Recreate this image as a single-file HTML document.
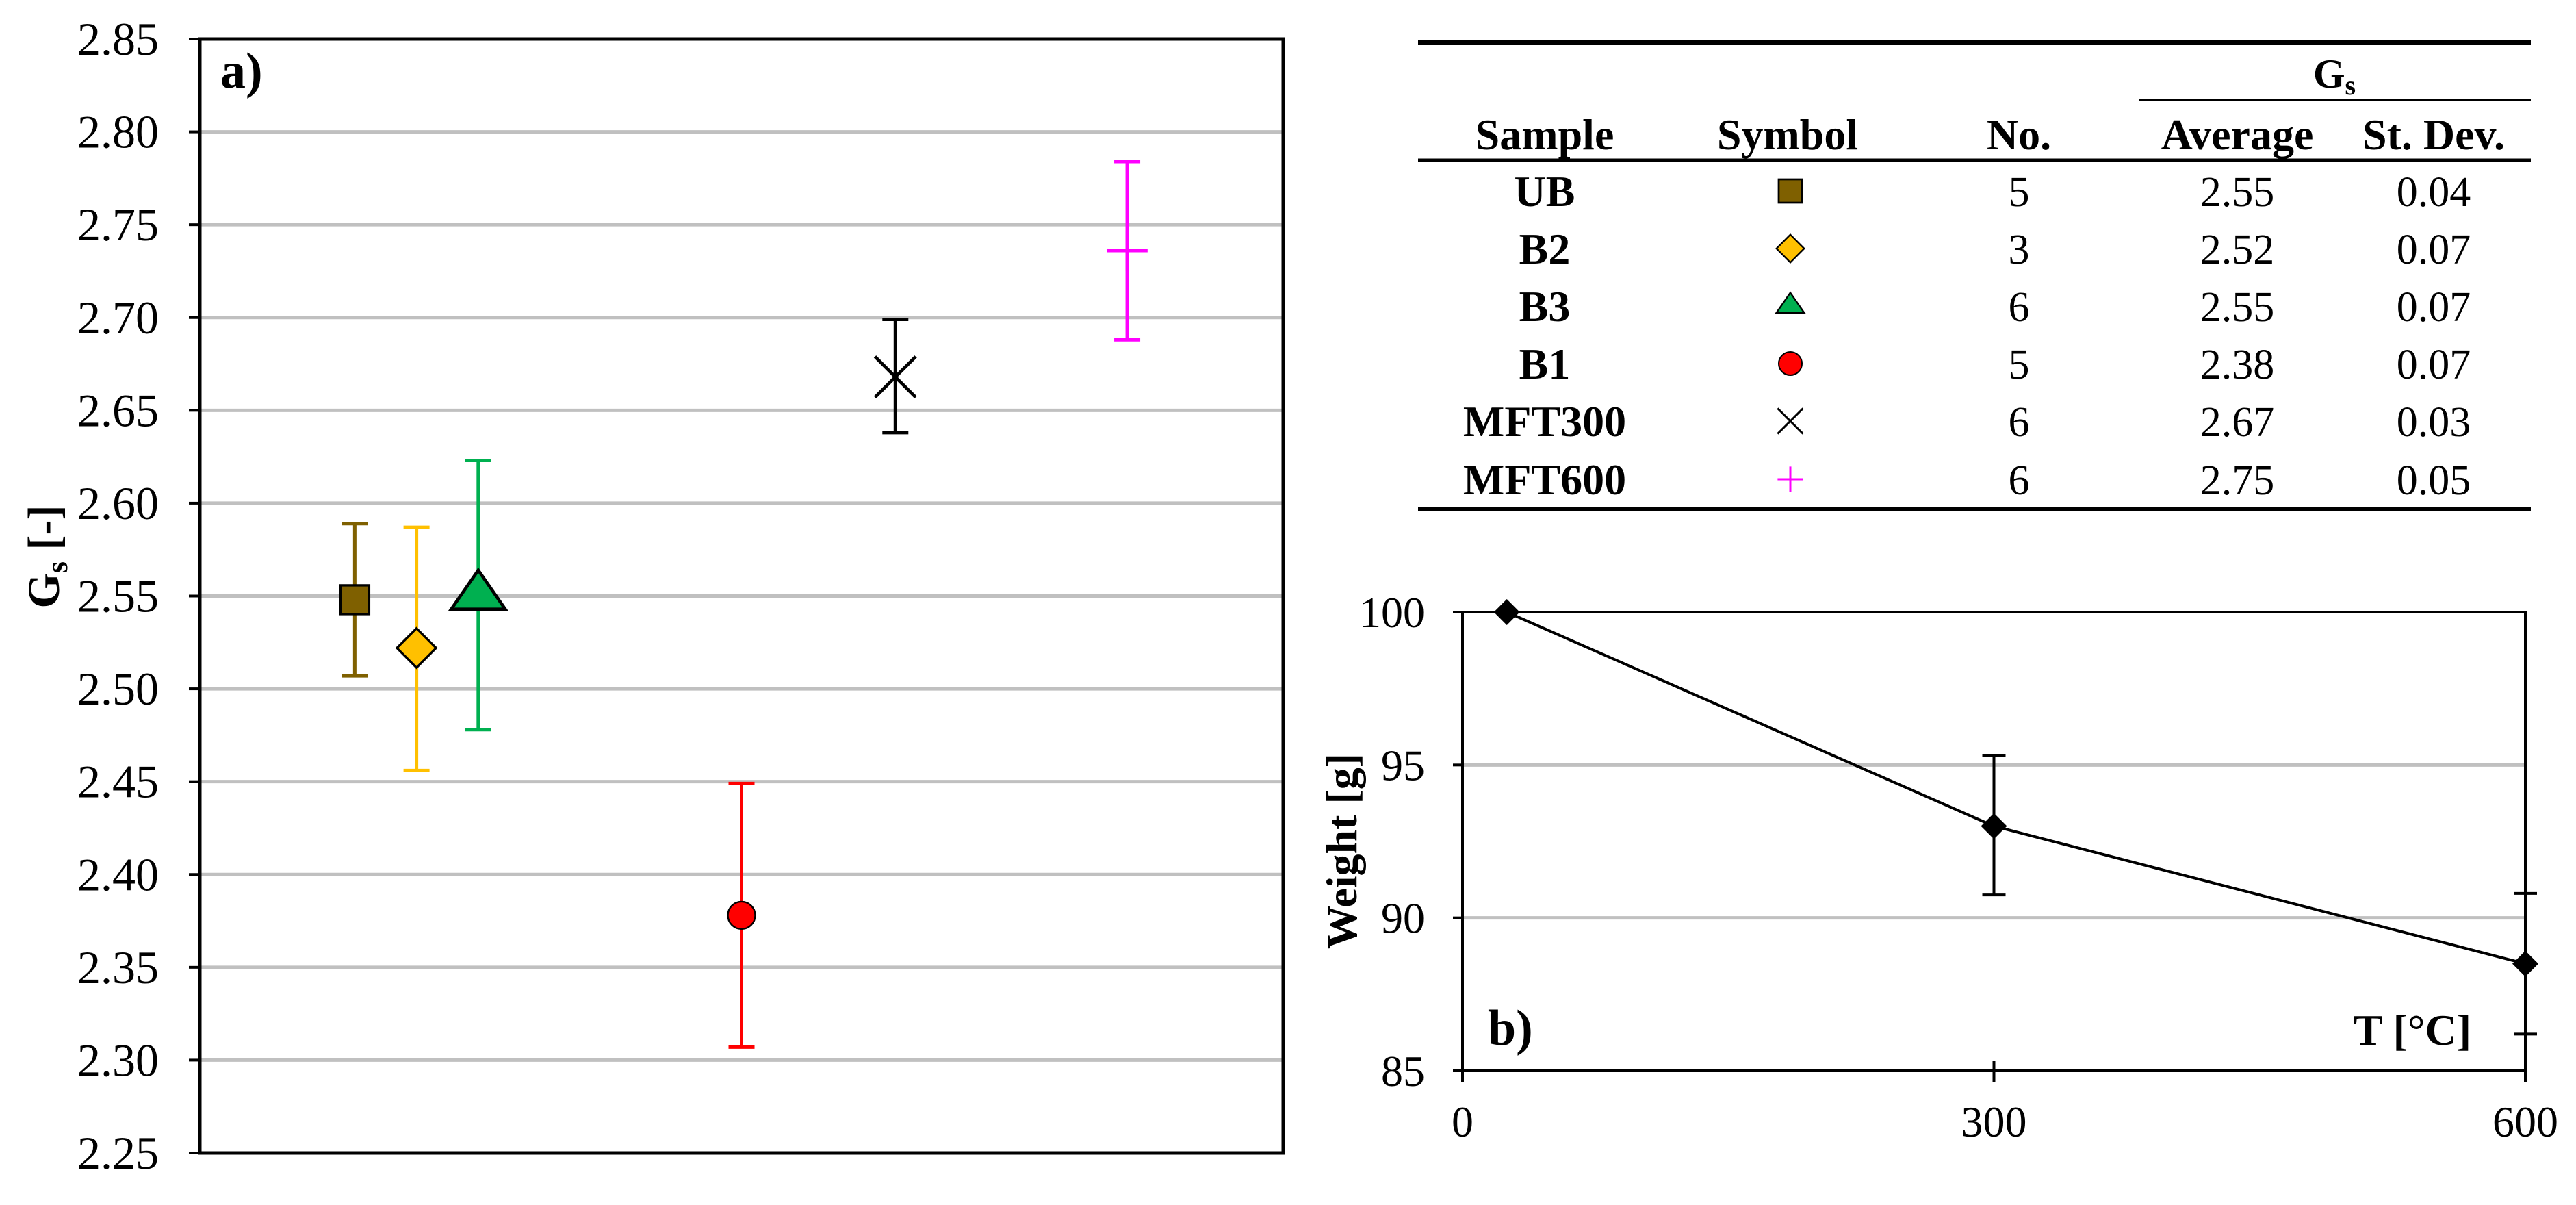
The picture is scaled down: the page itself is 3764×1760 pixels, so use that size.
<!DOCTYPE html>
<html><head><meta charset="utf-8">
<style>
html,body{margin:0;padding:0;background:#fff;}
svg{display:block;font-family:"Liberation Serif",serif;}
</style></head>
<body>
<svg id="fig" width="3764" height="1760" viewBox="0 0 3764 1760" xmlns="http://www.w3.org/2000/svg">
<g id="chartA"></g>
<g id="table"></g>
<g id="chartB"></g>
</svg>
<script>
// ---- Chart a data ----
const samples = ["UB","B2","B3","B1","MFT300","MFT600"];
const sampleX = [1.43, 2.0, 2.57, 5.0, 6.42, 8.56];
const gsMean = [2.548, 2.522, 2.550, 2.378, 2.668, 2.736];
const gsLow = [2.507, 2.456, 2.478, 2.307, 2.638, 2.688];
const gsHigh = [2.589, 2.587, 2.623, 2.449, 2.699, 2.784];
const yTicksA = ["2.25","2.30","2.35","2.40","2.45","2.50","2.55","2.60","2.65","2.70","2.75","2.80","2.85"];
// ---- Table data ----
const tableNo = ["5","3","6","5","6","6"];
const tableAvg = ["2.55","2.52","2.55","2.38","2.67","2.75"];
const tableSd = ["0.04","0.07","0.07","0.07","0.03","0.05"];
// ---- Chart b data ----
const tempX = [25, 300, 600];
const weightY = [100, 93, 88.5];
const weightLow = [100, 90.75, 86.2];
const weightHigh = [100, 95.3, 90.8];
const hasErr = [false, true, true];
const xTicksB = [0, 300, 600];
const yTicksB = [85, 90, 95, 100];

const NS="http://www.w3.org/2000/svg";
function mk(tag, attrs, parent, txt){
  const e=document.createElementNS(NS,tag);
  for(const k in attrs) e.setAttribute(k, attrs[k]);
  if(txt!==undefined) e.textContent=txt;
  parent.appendChild(e); return e;
}
const colors=["#7f6000","#ffc000","#00b050","#ff0000","#000000","#ff00ff"];
const kinds=["square","diamond","triangle","circle","x","plus"];

function marker(g, kind, cx, cy, s, color){
  let e;
  if(kind==="square") e=mk("rect",{x:cx-s/2,y:cy-s/2,width:s,height:s,fill:color,stroke:"#000","stroke-width":s*0.08},g);
  else if(kind==="diamond"){const h=s*0.7;e=mk("polygon",{points:`${cx},${cy-h} ${cx+h},${cy} ${cx},${cy+h} ${cx-h},${cy}`,fill:color,stroke:"#000","stroke-width":s*0.08},g);}
  else if(kind==="triangle"){e=mk("polygon",{points:`${cx},${cy-s*0.65} ${cx+s*0.68},${cy+s*0.33} ${cx-s*0.68},${cy+s*0.33}`,fill:color,stroke:"#000","stroke-width":s*0.08},g);}
  else if(kind==="circle") e=mk("circle",{cx:cx,cy:cy,r:s/2,fill:color,stroke:"#000","stroke-width":s*0.06},g);
  else if(kind==="x"){const h=s*0.62;e=mk("path",{d:`M${cx-h},${cy-h}L${cx+h},${cy+h}M${cx+h},${cy-h}L${cx-h},${cy+h}`,stroke:color,"stroke-width":s*0.1,fill:"none"},g);}
  else if(kind==="plus"){const h=s*0.62;e=mk("path",{d:`M${cx-h},${cy}L${cx+h},${cy}M${cx},${cy-h}L${cx},${cy+h}`,stroke:color,"stroke-width":s*0.1,fill:"none"},g);}
  return e;
}

// ---------- Chart a ----------
(function(){
  const g=document.getElementById("chartA");
  const L=292,R=1875,T=57,B=1684;
  const yMin=2.25,yMax=2.85,xMin=0,xMax=10;
  const ys=v=>B-(v-yMin)/(yMax-yMin)*(B-T);
  const xs=v=>L+(v-xMin)/(xMax-xMin)*(R-L);
  yTicksA.forEach((t)=>{
    const y=ys(parseFloat(t));
    if(parseFloat(t)>yMin && parseFloat(t)<yMax){
      const gl=mk("line",{x1:L,x2:R,y1:y,y2:y,stroke:"#c0c0c0","stroke-width":5},g);
      
      
    }
    const tk=mk("line",{x1:L-16,x2:L,y1:y,y2:y,stroke:"#000","stroke-width":4},g);
    
    
    const tl=mk("text",{x:232,y:y+23,"text-anchor":"end","font-size":68},g,t);
    
    
  });
  const fr=mk("rect",{x:L,y:T,width:R-L,height:B-T,fill:"none",stroke:"#000","stroke-width":5},g);
  
  
  const pl=mk("text",{x:322,y:128,"font-size":74,"font-weight":"bold"},g,"a)");
  
  
  const yt=mk("text",{transform:"translate(86,813) rotate(-90)","text-anchor":"middle","font-size":66,"font-weight":"bold"},g);
  
  
  mk("tspan",{},yt,"G");
  mk("tspan",{"font-size":44,dy:12},yt,"s");
  mk("tspan",{dy:-12},yt," [-]");
  samples.forEach((s,i)=>{
    const x=xs(sampleX[i]);
    const eg=mk("g",{},g);
    
    
    mk("line",{x1:x,x2:x,y1:ys(gsLow[i]),y2:ys(gsHigh[i]),stroke:colors[i],"stroke-width":5},eg);
    mk("line",{x1:x-19,x2:x+19,y1:ys(gsLow[i]),y2:ys(gsLow[i]),stroke:colors[i],"stroke-width":5},eg);
    mk("line",{x1:x-19,x2:x+19,y1:ys(gsHigh[i]),y2:ys(gsHigh[i]),stroke:colors[i],"stroke-width":5},eg);
    const sz={square:42,diamond:41,triangle:58,circle:40,x:48,plus:48}[kinds[i]];
    const m=marker(g,kinds[i],x,ys(gsMean[i]),sz,colors[i]);
    
    
  });
})();

// ---------- Table ----------
(function(){
  const g=document.getElementById("table");
  const X1=2072,X2=3698;
  const cols=[2257,2612,2950,3269,3556];
  const l1=mk("line",{x1:X1,x2:X2,y1:62,y2:62,stroke:"#000","stroke-width":6},g);
  
  
  const l2=mk("line",{x1:3125,x2:X2,y1:146,y2:146,stroke:"#000","stroke-width":4},g);
  
  
  const l3=mk("line",{x1:X1,x2:X2,y1:234,y2:234,stroke:"#000","stroke-width":5},g);
  
  
  const l4=mk("line",{x1:X1,x2:X2,y1:743,y2:743,stroke:"#000","stroke-width":6},g);
  
  
  const gh=mk("text",{x:3411,y:128,"text-anchor":"middle","font-size":60,"font-weight":"bold"},g);
  
  
  mk("tspan",{},gh,"G");
  mk("tspan",{"font-size":40,dy:10},gh,"s");
  const heads=["Sample","Symbol","No.","Average","St. Dev."];
  heads.forEach((h,j)=>{
    const t=mk("text",{x:cols[j],y:218,"text-anchor":"middle","font-size":64,"font-weight":"bold"},g,h);
    
    
  });
  const rows=[301,385,469,553,637,722];
  samples.forEach((s,i)=>{
    const y=rows[i];
    const t0=mk("text",{x:cols[0],y:y,"text-anchor":"middle","font-size":64,"font-weight":"bold"},g,s);
    
    
    const sz={square:34,diamond:29,triangle:30,circle:34,x:30,plus:30}[kinds[i]];
    const m=marker(g,kinds[i],cols[1]+4,y-22,sz,colors[i]);
    
    
    [tableNo[i],tableAvg[i],tableSd[i]].forEach((v,k)=>{
      const t=mk("text",{x:cols[k+2],y:y,"text-anchor":"middle","font-size":62},g,v);
      
      
    });
  });
})();

// ---------- Chart b ----------
(function(){
  const g=document.getElementById("chartB");
  const L=2137,R=3690,T=894,B=1564;
  const xMin=0,xMax=600,yMin=85,yMax=100;
  const xs=v=>L+(v-xMin)/(xMax-xMin)*(R-L);
  const ys=v=>B-(v-yMin)/(yMax-yMin)*(B-T);
  yTicksB.forEach(v=>{
    const y=ys(v);
    if(v>yMin&&v<yMax){
      const gl=mk("line",{x1:L,x2:R,y1:y,y2:y,stroke:"#c0c0c0","stroke-width":5},g);
      
      
    }
    const tk=mk("line",{x1:L-14,x2:L,y1:y,y2:y,stroke:"#000","stroke-width":4},g);
    
    
    const tl=mk("text",{x:2082,y:y+22,"text-anchor":"end","font-size":64},g,String(v));
    
    
  });
  xTicksB.forEach(v=>{
    const x=xs(v);
    const tk=mk("line",{x1:x,x2:x,y1:B-14,y2:B+16,stroke:"#000","stroke-width":4},g);
    
    
    const tl=mk("text",{x:x,y:1660,"text-anchor":"middle","font-size":64},g,String(v));
    
    
  });
  const fr=mk("rect",{x:L,y:T,width:R-L,height:B-T,fill:"none",stroke:"#000","stroke-width":4},g);
  
  
  const pts=tempX.map((t,i)=>xs(t)+","+ys(weightY[i])).join(" ");
  const ln=mk("polyline",{points:pts,fill:"none",stroke:"#000","stroke-width":4},g);
  
  
  tempX.forEach((t,i)=>{
    const x=xs(t);
    if(hasErr[i]){
      const eg=mk("g",{},g);
      
      
      mk("line",{x1:x,x2:x,y1:ys(weightLow[i]),y2:ys(weightHigh[i]),stroke:"#000","stroke-width":4},eg);
      mk("line",{x1:x-17,x2:x+17,y1:ys(weightLow[i]),y2:ys(weightLow[i]),stroke:"#000","stroke-width":4},eg);
      mk("line",{x1:x-17,x2:x+17,y1:ys(weightHigh[i]),y2:ys(weightHigh[i]),stroke:"#000","stroke-width":4},eg);
    }
    const h=19;
    const m=mk("polygon",{points:`${x},${ys(weightY[i])-h} ${x+h},${ys(weightY[i])} ${x},${ys(weightY[i])+h} ${x-h},${ys(weightY[i])}`,fill:"#000"},g);
    
    
  });
  const yt=mk("text",{transform:"translate(1982,1243) rotate(-90)","text-anchor":"middle","font-size":64,"font-weight":"bold"},g,"Weight [g]");
  
  
  const xt=mk("text",{x:3611,y:1526,"text-anchor":"end","font-size":64,"font-weight":"bold"},g,"T [°C]");
  
  
  const pl=mk("text",{x:2174,y:1526,"font-size":74,"font-weight":"bold"},g,"b)");
  
  
})();
</script>
</body></html>
